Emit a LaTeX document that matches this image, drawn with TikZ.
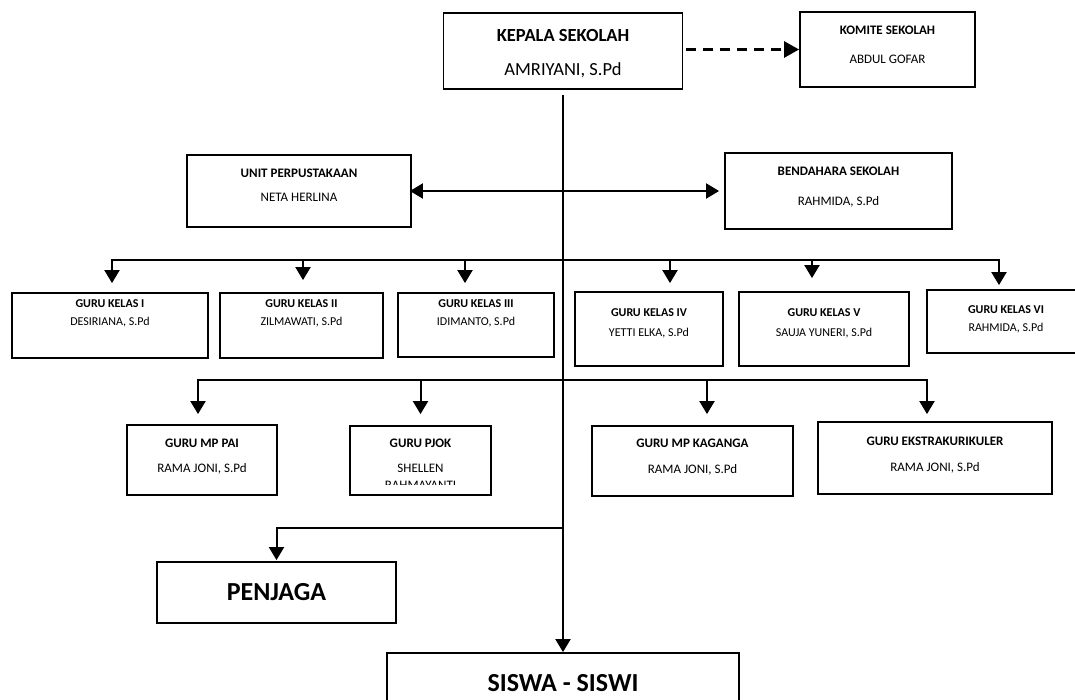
\documentclass[tikz,border=0pt]{standalone}
\usepackage{fontspec}
\setmainfont{Carlito}
\usetikzlibrary{arrows.meta, positioning}

\begin{document}
\begin{tikzpicture}[
    x=1pt, y=-1pt,
    box/.style={draw, line width=1.8pt, inner sep=0pt},
    txt/.style 2 args={align=center, inner sep=0pt, font=\fontsize{#1}{#2}\selectfont},
    arr/.style={-{Triangle[length=13pt, width=15pt]}, line width=2pt},
    biarr/.style={{Triangle[length=13pt, width=15pt]}-{Triangle[length=13pt, width=15pt]}, line width=2pt},
    darr/.style={-{Triangle[length=15pt, width=16pt]}, line width=2.6pt, dash pattern=on 10pt off 7pt}
]
    \useasboundingbox (0,0) rectangle (1075,700);

    % Pimpinan
    \node[box, minimum width=239pt, minimum height=76pt] (kepala) at (563,51) {};
    \node[txt={18.5}{34}, below=17pt of kepala.north] (kepalat) {\textbf{KEPALA SEKOLAH}\\AMRIYANI, S.Pd};
    \node[box, minimum width=175pt, minimum height=75pt] (komite) at (887.5,49.5) {};
    \node[txt={13}{29}, below=14.8pt of komite.north] (komitet) {\textbf{KOMITE SEKOLAH}\\ABDUL GOFAR};

    % Staf
    \node[box, minimum width=224pt, minimum height=72pt] (unit) at (299,191) {};
    \node[txt={13}{24}, below=14.8pt of unit.north] (unitt) {\textbf{UNIT PERPUSTAKAAN}\\NETA HERLINA};
    \node[box, minimum width=227pt, minimum height=76pt] (bend) at (838.5,191) {};
    \node[txt={13}{30}, below=14.8pt of bend.north] (bendt) {\textbf{BENDAHARA SEKOLAH}\\RAHMIDA, S.Pd};

    % Guru kelas
    \node[box, minimum width=196pt, minimum height=65pt] (k1) at (110,325.5) {};
    \node[txt={12}{18}, below=7.1pt of k1.north] (k1t) {\textbf{GURU KELAS I}\\DESIRIANA, S.Pd};
    \node[box, minimum width=163pt, minimum height=65pt] (k2) at (301.5,325.5) {};
    \node[txt={12}{18}, below=7.1pt of k2.north] (k2t) {\textbf{GURU KELAS II}\\ZILMAWATI, S.Pd};
    \node[box, minimum width=156pt, minimum height=64pt] (k3) at (476,325) {};
    \node[txt={12}{18}, below=7.1pt of k3.north] (k3t) {\textbf{GURU KELAS III}\\IDIMANTO, S.Pd};
    \node[box, minimum width=148pt, minimum height=74pt] (k4) at (649,329) {};
    \node[txt={12}{20}, below=17.1pt of k4.north] (k4t) {\textbf{GURU KELAS IV}\\YETTI ELKA, S.Pd};
    \node[box, minimum width=170pt, minimum height=74pt] (k5) at (824,329) {};
    \node[txt={12}{20}, below=17.1pt of k5.north] (k5t) {\textbf{GURU KELAS V}\\SAUJA YUNERI, S.Pd};
    \node[box, minimum width=158pt, minimum height=63pt] (k6) at (1006,321.5) {};
    \node[txt={12}{18}, below=16.1pt of k6.north] (k6t) {\textbf{GURU KELAS VI}\\RAHMIDA, S.Pd};

    % Guru mata pelajaran
    \node[box, minimum width=150pt, minimum height=70pt] (pai) at (202,460) {};
    \node[txt={13}{25}, below=14.8pt of pai.north] (pait) {\textbf{GURU MP PAI}\\RAMA JONI, S.Pd};
    \node[box, minimum width=141pt, minimum height=69pt] (pjok) at (420.5,460.5) {};
    \begin{scope}
        \clip (pjok.north west) rectangle ([yshift=11pt]pjok.south east);
        \node[txt={13}{25}, below=13.8pt of pjok.north] (pjokt) {\textbf{GURU PJOK}\\SHELLEN\\[-8.5pt]RAHMAYANTI};
    \end{scope}
    \node[box, minimum width=201pt, minimum height=70pt] (kaganga) at (692.5,461) {};
    \node[txt={13}{26}, below=13.8pt of kaganga.north] (kagangat) {\textbf{GURU MP KAGANGA}\\RAMA JONI, S.Pd};
    \node[box, minimum width=234pt, minimum height=72pt] (ekskul) at (935,458) {};
    \node[txt={13}{26}, below=15.8pt of ekskul.north] (ekskult) {\textbf{GURU EKSTRAKURIKULER}\\RAMA JONI, S.Pd};

    % Penjaga, siswa
    \node[box, minimum width=239pt, minimum height=61pt, font=\fontsize{26}{30}\selectfont\bfseries] (penjaga) at (276.5,592.5) {PENJAGA};
    \node[box, minimum width=352pt, minimum height=60pt, font=\fontsize{26}{30}\selectfont\bfseries] (siswa) at (563,683) {SISWA - SISWI};

    \coordinate (r1) at (563,260);
    \coordinate (r2) at (563,380);
    \coordinate (pj) at (563,528);

    % Garis komando
    \draw[arr, shorten <=5pt] (kepala.south) -- (siswa.north);
    \draw[darr, shorten <=3pt] (kepala.east |- komite.west) -- (komite.west);
    \draw[biarr, shorten <=-2pt, shorten >=5pt] (unit.east) -- (bend.west);

    % Baris guru kelas
    \draw[arr, shorten >=9pt] (r1) -| ([xshift=2pt]k1.north);
    \draw[arr, shorten >=4pt] (r1) -| ([xshift=-7pt]k6.north);
    \draw[arr, shorten >=12pt] ([xshift=1.5pt]k2.north |- r1) -- ([xshift=1.5pt]k2.north);
    \draw[arr, shorten >=9pt] ([xshift=-11pt]k3.north |- r1) -- ([xshift=-11pt]k3.north);
    \draw[arr, shorten >=8pt] ([xshift=21pt]k4.north |- r1) -- ([xshift=21pt]k4.north);
    \draw[arr, shorten >=13pt] ([xshift=-12pt]k5.north |- r1) -- ([xshift=-12pt]k5.north);

    % Baris guru mapel
    \draw[arr, shorten >=10pt] (r2) -| ([xshift=-4pt]pai.north);
    \draw[arr, shorten >=7pt] (r2) -| ([xshift=-8pt]ekskul.north);
    \draw[arr, shorten >=11pt] (pjok.north |- r2) -- (pjok.north);
    \draw[arr, shorten >=11pt] ([xshift=14.5pt]kaganga.north |- r2) -- ([xshift=14.5pt]kaganga.north);

    \draw[arr, shorten >=1pt] (pj) -| (penjaga.north);
\end{tikzpicture}
\end{document}
